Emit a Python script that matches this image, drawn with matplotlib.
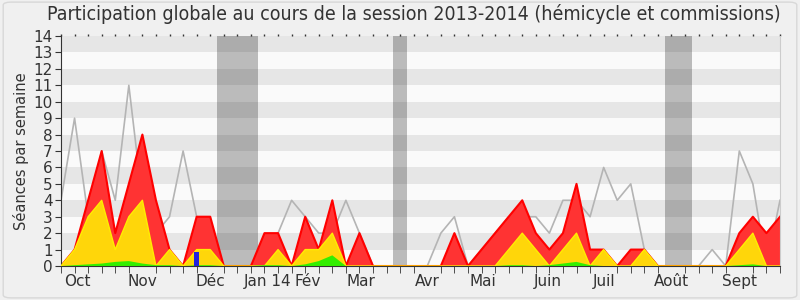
import matplotlib
matplotlib.use("Agg")
import matplotlib.pyplot as plt
from matplotlib.patches import FancyBboxPatch
import numpy as np

weeks = list(range(54))
total = [4, 9, 3, 7, 4, 11, 4, 2, 3, 7, 3, 2, 0, 0, 0, 1, 2, 4, 3, 2, 2, 4, 2, 0, 0, 0, 0, 0,
         2, 3, 0, 1, 2, 3, 3, 3, 2, 4, 4, 3, 6, 4, 5, 1, 0, 0, 0, 0, 1, 0, 7, 5, 0, 4]
presence = [0, 1, 4, 7, 2, 5, 8, 4, 1, 0, 3, 3, 0, 0, 0, 2, 2, 0, 3, 1, 4, 0, 2, 0, 0, 0, 0, 0,
            0, 2, 0, 1, 2, 3, 4, 2, 1, 2, 5, 1, 1, 0, 1, 1, 0, 0, 0, 0, 0, 0, 2, 3, 2, 3]
commission = [0, 1, 3, 4, 1, 3, 4, 0, 1, 0, 1, 1, 0, 0, 0, 0, 1, 0, 1, 1, 2, 0, 0, 0, 0, 0, 0, 0,
              0, 0, 0, 0, 0, 1, 2, 1, 0, 1, 2, 0, 1, 0, 0, 1, 0, 0, 0, 0, 0, 0, 1, 2, 0, 0]
hemicycle = [0, 0.05, 0.1, 0.15, 0.25, 0.3, 0.15, 0.05, 0.05, 0, 0.05, 0.05, 0, 0, 0, 0.05, 0.05, 0,
             0.1, 0.3, 0.65, 0, 0, 0, 0, 0, 0, 0, 0, 0, 0, 0, 0, 0.05, 0.05, 0, 0.05, 0.15, 0.25,
             0.05, 0, 0, 0, 0, 0, 0, 0, 0, 0, 0, 0.05, 0.1, 0, 0]
question_weeks = [10]
question_values = [0.85]
vacations = [(11.5, 14.5), (24.5, 25.5), (44.5, 46.5)]
month_labels = ["Oct", "Nov", "Déc", "Jan 14", "Fév", "Mar", "Avr", "Mai", "Juin", "Juil", "Août", "Sept"]
month_pos = [1.2, 6.0, 11.0, 15.2, 18.2, 22.1, 27.0, 31.1, 35.9, 40.0, 45.0, 50.0]

fig = plt.figure(figsize=(8, 3), dpi=100)
fig.patch.set_facecolor("#f0f0f0")
fig.patches.append(FancyBboxPatch((0.004, 0.007), 0.992, 0.986, boxstyle="round,pad=0,rounding_size=0.01",
                                  transform=fig.transFigure, facecolor="none", edgecolor="#d8d8d8", lw=1))
ax = fig.add_axes([0.07625, 0.1133, 0.89875, 0.7667])
ax.set_facecolor("#fafafa")
ax.set_xlim(0, 53)
ax.set_ylim(0, 14)

for k in range(1, 14, 2):
    ax.axhspan(k, k + 1, color="#e6e6e6", lw=0, zorder=0)
for a, b in vacations:
    ax.axvspan(a, b, color="black", alpha=0.25, lw=0, zorder=0.5)

ax.plot(weeks, total, color="#b4b4b4", lw=1.2, zorder=1)
ax.fill_between(weeks, 0, presence, facecolor="#ff3333", edgecolor="none", zorder=2)
ax.plot(weeks, presence, color="#ff0000", lw=1.5, zorder=2.1)
ax.fill_between(weeks, 0, commission, facecolor="#ffd60a", edgecolor="none", zorder=3)
ax.plot(weeks, commission, color="#ffee00", lw=1.0, zorder=3.1)
ax.fill_between(weeks, 0, hemicycle, facecolor="#33ee00", edgecolor="none", zorder=4)
ax.bar(question_weeks, question_values, width=0.35, color="#2222dd", zorder=5)

ax.set_yticks(range(0, 15))
ax.set_xticks(month_pos)
ax.set_xticklabels(month_labels)
ax.set_xticks(weeks, minor=True)
ax.tick_params(axis="x", which="major", length=0, pad=6, labelsize=11, labelcolor="#333333")
ax.tick_params(axis="x", which="minor", length=5, color="#333333")
ax.tick_params(axis="y", length=4, color="#333333", labelsize=11, labelcolor="#333333", pad=2)

top = ax.secondary_xaxis("top")
top.set_xticks(weeks)
top.set_xticklabels([])
top.tick_params(length=1.5, width=1, color="#333333", direction="out")
top.spines["top"].set_visible(False)

ax.spines["top"].set_visible(False)
ax.spines["right"].set_color("#cccccc")
ax.spines["left"].set_color("#333333")
ax.spines["bottom"].set_color("#333333")
ax.set_ylabel("Séances par semaine", fontsize=10.5, color="#333333", labelpad=3)
fig.text(0.517, 0.985, "Participation globale au cours de la session 2013-2014 (hémicycle et commissions)",
         ha="center", va="top", fontsize=14, color="#333333", fontstretch="condensed")
fig.savefig("out.png", dpi=100, facecolor=fig.get_facecolor())
